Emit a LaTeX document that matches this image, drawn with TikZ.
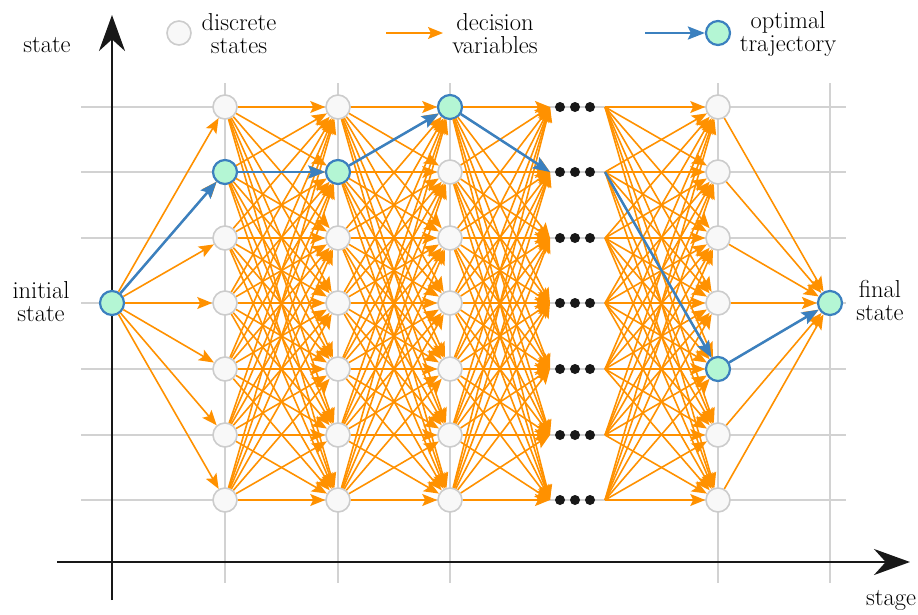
\documentclass[tikz,border=0pt]{standalone}
\usetikzlibrary{arrows.meta}
\definecolor{orng}{RGB}{255,145,0}
\definecolor{optblue}{RGB}{59,128,191}
\definecolor{optgreen}{RGB}{180,246,212}
\definecolor{nodegray}{RGB}{204,204,204}
\definecolor{nodefill}{RGB}{248,248,248}
\definecolor{gridgray}{RGB}{210,210,210}
\definecolor{axisblack}{RGB}{24,24,24}
\begin{document}
\begin{tikzpicture}[x=1pt,y=-1pt,
 grid/.style={draw=gridgray,line width=1.6pt},
 axis/.style={draw=axisblack,line width=2.6pt,-{Stealth[length=36pt,width=26pt]}},
 snode/.style={circle,draw=nodegray,fill=nodefill,line width=1.6pt,minimum size=24pt,inner sep=0pt},
 onode/.style={circle,draw=optblue,fill=optgreen,line width=2.2pt,minimum size=24pt,inner sep=0pt},
 oedge/.style={draw=orng,line width=1.6pt,-{Stealth[length=15pt,width=12pt,inset=3pt]}},
 bedge/.style={draw=optblue,line width=2.5pt,-{Stealth[length=17pt,width=13pt,inset=3pt]}},
 dotnode/.style={circle,fill=axisblack,inner sep=0pt,minimum size=10pt},
 lbl/.style={font=\fontsize{24.5}{23}\selectfont,align=center,inner sep=0pt}]
\useasboundingbox (0,0) rectangle (918,614);
% grid
\foreach \y in {107,172,238,303,369,435,500}
  \draw[grid] (81,\y) -- (846,\y);
\foreach \x in {225,338,450,718,830}
  \draw[grid] (\x,83) -- (\x,583);
% axes
\coordinate (yb) at (112,600);
\coordinate (yt) at (112,15);
\coordinate (xl) at (57,562);
\coordinate (xr) at (910,562);
\draw[axis] (yb) -- (yt);
\draw[axis] (xl) -- (xr);
% nodes
\node[onode] (n0) at (112,303) {};
\node[onode] (f) at (830,303) {};
\foreach \i/\y in {1/107,2/172,3/238,4/303,5/369,6/435,7/500}{
  \node[snode] (a\i) at (225,\y) {};
  \node[snode] (b\i) at (338,\y) {};
  \node[snode] (c\i) at (450,\y) {};
  \node[snode] (e\i) at (718,\y) {};
  \coordinate (dl\i) at (550,\y);
  \coordinate (dr\i) at (605,\y);
  \node[dotnode] (d\i a) at (560,\y) {};
  \node[dotnode] (d\i b) at (575,\y) {};
  \node[dotnode] (d\i c) at (590,\y) {};
}
\node[onode] at (a2) {};
\node[onode] at (b2) {};
\node[onode] at (c1) {};
\node[onode] at (e5) {};
% orange edges
\foreach \j in {1,...,7}{
  \draw[oedge] (n0) -- (a\j);
  \draw[oedge] (e\j) -- (f);
}
\foreach \i in {1,...,7}{
  \foreach \j in {1,...,7}{
    \draw[oedge] (a\i) -- (b\j);
    \draw[oedge] (b\i) -- (c\j);
    \draw[oedge] (c\i) -- (dl\j);
    \draw[oedge] (dr\i) -- (e\j);
  }
}
% optimal trajectory
\draw[bedge] (n0) -- (a2);
\draw[bedge] (a2) -- (b2);
\draw[bedge] (b2) -- (c1);
\draw[bedge] (c1) -- (dl2);
\draw[bedge] (dr2) -- (e5);
\draw[bedge] (e5) -- (f);
% legend
\node[snode] (lg1) at (179,33) {};
\node[lbl] (lt1) at (239,34) {discrete\\states};
\coordinate (la2) at (386,33);
\coordinate (lb2) at (443,33);
\draw[oedge] (la2) -- (lb2);
\node[lbl] (lt2) at (495,34) {decision\\variables};
\node[onode] (lg3) at (718,33) {};
\coordinate (la3) at (645,33);
\draw[bedge] (la3) -- (lg3);
\node[lbl] (lt3) at (788,34) {optimal\\trajectory};
% labels
\node[lbl] (ls) at (47,45) {state};
\node[lbl] (li) at (41,302) {initial\\state};
\node[lbl] (lf) at (880,300) {final\\state};
\node[lbl] (lst) at (891,600) {stage};
\end{tikzpicture}
\end{document}
